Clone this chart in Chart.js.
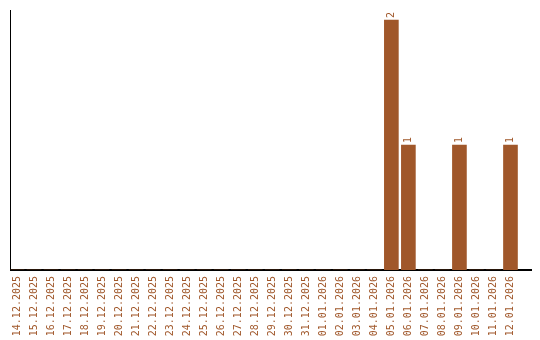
<!DOCTYPE html>
<html>
<head>
<meta charset="utf-8">
<script src="https://cdn.jsdelivr.net/npm/chart.js@4"></script>
<style>
  html, body { margin: 0; padding: 0; background: #fff; }
  #wrap { width: 540px; height: 340px; }
</style>
</head>
<body>
<div id="wrap"><canvas id="C"></canvas></div>
<script>
const categories = [
  "14.12.2025", "15.12.2025", "16.12.2025", "17.12.2025", "18.12.2025",
  "19.12.2025", "20.12.2025", "21.12.2025", "22.12.2025", "23.12.2025",
  "24.12.2025", "25.12.2025", "26.12.2025", "27.12.2025", "28.12.2025",
  "29.12.2025", "30.12.2025", "31.12.2025", "01.01.2026", "02.01.2026",
  "03.01.2026", "04.01.2026", "05.01.2026", "06.01.2026", "07.01.2026",
  "08.01.2026", "09.01.2026", "10.01.2026", "11.01.2026", "12.01.2026"
];
const counts = [
  0, 0, 0, 0, 0, 0, 0, 0, 0, 0,
  0, 0, 0, 0, 0, 0, 0, 0, 0, 0,
  0, 0, 2, 1, 0, 0, 1, 0, 0, 1
];

const brown = "#a0572a";
const font = { family: "'DejaVu Sans Mono', monospace", size: 10 };
const xMin = -0.382, xMax = 30.206;

// value labels above bars, rotated like the axis labels
const barLabels = {
  id: "barLabels",
  afterDatasetsDraw(chart) {
    const ctx = chart.ctx;
    const meta = chart.getDatasetMeta(0);
    ctx.save();
    ctx.fillStyle = brown;
    ctx.font = "10px 'DejaVu Sans Mono', monospace";
    ctx.textAlign = "left";
    ctx.textBaseline = "middle";
    meta.data.forEach((bar, i) => {
      if (!counts[i]) return;
      ctx.save();
      ctx.translate(bar.x, bar.y - 2);
      ctx.rotate(-Math.PI / 2);
      ctx.fillText(String(counts[i]), 0, 0);
      ctx.restore();
    });
    ctx.restore();
  }
};

let chart = new Chart(document.getElementById("C").getContext("2d"), {
  type: "bar",
  data: {
    datasets: [
      {
        data: counts.map((v, i) => ({ x: i, y: v })),
        backgroundColor: brown,
        borderWidth: 0,
        barThickness: 14,
      },
    ],
  },
  plugins: [barLabels],
  options: {
    responsive: true,
    maintainAspectRatio: false,
    animation: false,
    layout: { padding: { left: 10, top: 10, right: 9, bottom: 0 } },
    plugins: {
      legend: { display: false },
      tooltip: { enabled: false },
    },
    scales: {
      x: {
        type: "linear",
        offset: false,
        bounds: "data",
        min: xMin,
        max: xMax,
        grid: { display: false, drawTicks: false },
        border: { display: true, color: "#000", width: 2 },
        afterBuildTicks: (scale) => {
          scale.ticks = categories.map((c, i) => ({ value: i }));
          scale.min = xMin;
          scale.max = xMax;
        },
        afterFit: (scale) => {
          scale.height = 70;
          scale.paddingLeft = 0;
          scale.paddingRight = 0;
        },
        ticks: {
          autoSkip: false,
          maxRotation: 90,
          minRotation: 90,
          padding: 6,
          color: brown,
          font: font,
          callback: (v) => categories[v],
        },
      },
      y: {
        min: 0,
        max: 2.08,
        grid: { display: false, drawTicks: false },
        border: { display: true, color: "#000", width: 1 },
        ticks: { display: false },
        afterFit: (scale) => {
          scale.width = 0.5;
          scale.paddingTop = 0;
          scale.paddingBottom = 0;
        },
      },
    },
  },
});
</script>
</body>
</html>
